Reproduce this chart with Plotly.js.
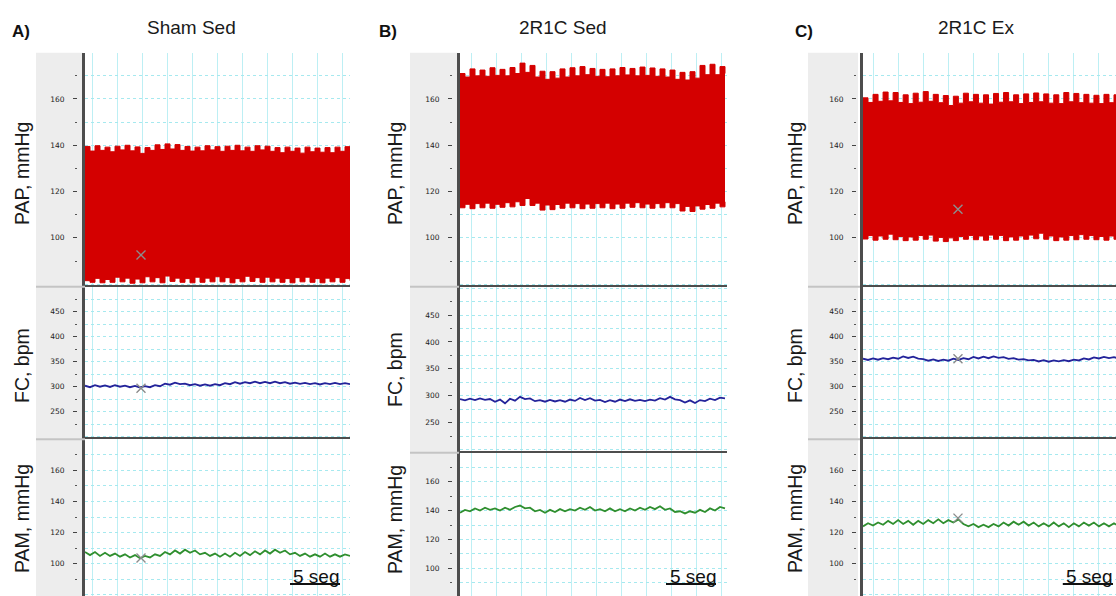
<!DOCTYPE html>
<html><head><meta charset="utf-8">
<script src="https://cdn.plot.ly/plotly-3.0.1.min.js"></script>
<style>html,body{margin:0;padding:0;background:#fff}#chart{width:1116px;height:596px}</style>
</head><body><div id="chart"></div>
<script>
// ---------------- DATA ----------------
const panelTitles = ["Sham Sed", "2R1C Sed", "2R1C Ex"];
const panelLetters = ["A)", "B)", "C)"];
const rowTitles = ["PAP, mmHg", "FC, bpm", "PAM, mmHg"];
const scaleLabel = "5 seg";
const scaleSeconds = 5;

// time (s)
const time = [0,0.5,1,1.5,2,2.5,3,3.5,4,4.5,5,5.5,6,6.5,7,7.5,8,8.5,9,9.5,10,10.5,11,11.5,12,12.5,13,13.5,14,14.5,15,15.5,16,16.5,17,17.5,18,18.5,19,19.5,20,20.5,21,21.5,22,22.5,23,23.5,24,24.5,25,25.5,26,26.5];

// PAP (mmHg) envelopes: systolic (upper) and diastolic (lower)
const papUpperA = [139.5,137.5,139.8,137.8,139.2,137.2,139.6,138,140,137.6,139.3,136.5,139,137.8,140.2,138.2,140.6,138.4,140.3,137.8,139.5,137.5,139.2,137.6,139.8,138,139.4,137.4,139.6,137.8,140,137.6,139.2,137.4,139.8,138,139.6,137.4,139,136.8,139.2,137.4,138.8,136.6,139.2,137.2,138.8,137,139,136.8,139.2,137.4,139.4,138];
const papLowerA = [81.5,80.8,82.5,80.6,82,80.8,83,81,82.6,80.4,82.2,80.6,83.2,81,82.8,80.6,83.5,81.2,82.6,80.8,82.4,80.6,83,80.8,82.6,81,83.2,81,82.8,80.6,82.4,81,83.4,81.2,82.8,80.8,83,81,82.6,80.8,82.4,80.6,82.8,81,83,80.8,82.4,80.6,82.6,81,82.8,80.8,82.4,81.5];
const papUpperB = [171,169.5,173,170,172.5,169.8,173.5,170.2,172.8,170,173.6,171,175.5,171.5,174.5,169.5,172,168.5,171.8,169,173,169.5,173.5,170,174,170.5,173.2,169.8,172.8,169.6,173,170,173.6,170.4,173.2,170,173.8,170.2,173.4,169.8,173,169.5,172.5,168.5,171.5,168.2,171.8,169,174.5,170.5,175,170.5,174,171];
const papLowerB = [113,114.5,112.6,114.8,113,115,112.8,114.5,113.2,115.2,113.4,115.6,114,117,114,115,112,114.2,112.2,114.4,112.8,115,113,114.8,112.6,114.6,112.8,114.8,113,115,112.6,114.6,112.8,115,113.2,115.2,113,114.6,112.8,114.8,113,115.2,113,114.8,111.6,113.6,111.4,113.8,112.4,114.4,112.8,115,113.4,115.6];
const papUpperC = [160.5,158.5,162,159,163,159.2,162.8,158.5,161.8,158,162.5,158.6,163.2,159,162,158.4,161.5,157.2,161.2,158.2,162.5,158.8,162,158.2,161.8,157.8,162.4,158.6,162.8,158.8,161.8,158,162.2,158.5,162.6,158.8,162.2,158.2,161.8,158,162.8,158.8,162.4,158.4,162,158.2,161.6,158,162,158.4,161.8,158.2,162,158.5];
const papLowerC = [99.5,101,99,100.8,99.4,101.6,99.2,100.6,98.8,100.4,99,101,99.4,101.2,98.6,100.2,98.4,100,98.8,100.6,99.4,101,99.2,100.8,99,101.2,99.4,101,98.8,100.4,99,100.8,99.4,101.2,99.6,102,99.4,100.8,98.8,100.4,99,101,99.2,101.4,99.4,101,99.2,100.6,99,100.8,99.4,101,99.2,100.8];

// FC (bpm)
const fcA = [302,299,303,300,302.5,299.5,303,300,302,299,301.5,298.5,301,299,303,301,306,304,308,305,306,303,305,302,304.5,302,305,303,307,305,309,306,309,307,310,307,309.5,307,310,307,309,306,308,305.5,307.5,305,307,304.5,307,305,307.5,305,307,305];
const fcB = [294,291.5,294.5,292,295,292.5,294,289,293,286,294.5,291,298,294,295,290,292,289,292.5,289.5,292,289,293,290.5,296,292,295.5,291,292.5,288.5,292,289,293,290,293.5,290.5,292.5,290,293,291,295.5,293,298,293.5,292,287.5,291.5,286.5,292,290,294.5,292,296.5,295];
const fcC = [356,353.5,356.5,354,357,355,358,356,360.5,357.5,360,356,355,352,354.5,351.5,354,352,356,353.5,357,355,359.5,356.5,360,357,360.5,357.5,359,355.5,357,354,355,352.5,353.5,350.5,353,350,352.5,350.5,353,351,354,352.5,356.5,354.5,358.5,356.5,359.5,357,359,356.5,358,356];

// PAM (mmHg)
const pamA = [107.5,105.5,107.5,105,107,105,106.5,104.5,106,104,105.5,103.5,105,104,106,105,107.5,106,108.5,106.5,109,107,108.5,106,107,105,106.5,104.5,106.5,104.5,107,105,107.5,105.5,108,106,108.5,106.5,109,107,108.5,106,107,105,106.5,104.5,106,104.5,106.5,104.5,106,104.5,106,105];
const pamB = [138.5,140.5,139.5,141.5,140,142,140.5,141.5,140,142,140.5,142.5,143.5,141.5,142,139.5,140.5,138.5,140.5,139,141,139.5,141,140,142,140.5,142.5,140,141,139.5,141.5,139.5,141,139.5,141.5,140,142,140.5,142.5,141,143,140.5,141.5,139,139.5,138,139.5,138.5,140.5,139,141.5,140,142.5,141.5];
const pamC = [124,126,124.5,126.5,125,127.5,125.5,128,125.5,127.5,125,127.5,125.5,128,126,128.5,126,128,126.5,128.5,125.5,124,125.5,123.5,125,123.5,125.5,124,126.5,124.5,127,125,127,124.5,126.5,124,126,124,126.5,124,126,123.5,126,124,126.5,124.5,126.5,124,126,124,126,124,126,124.5];

// cursor marks (x) : time, PAP, FC, PAM  (null = none)
const cursorTime = [5.6, null, 9.46];
const cursorPAP = [92.6, null, 112.4];
const cursorFC = [297, null, 356];
const cursorPAM = [103.7, null, 129.3];

// scale bar start (s)
const scaleStart = [20.5, 20.6, 19.9];

// tick labels
const papTicks = [100, 120, 140, 160];
const papMinor = [90, 110, 130, 150, 170];
const fcTicks = [250, 300, 350, 400, 450];
const fcMinor = [225, 275, 325, 375, 425, 475];
const pamTicks = [100, 120, 140, 160];
const pamMinor = [90, 110, 130, 150, 170];

// ---------------- LAYOUT GEOMETRY ----------------
const W = 1116, H = 596;
const fx = v => v / W, fy = v => 1 - v / H;
const colLeft = [85, 460, 863], colRight = [350, 727, 1116];
const stripL = [36, 410, 808], stripR = [83, 457, 858];
const tickPos = [77, 452, 856];
const xRanges = [[0, 26.5], [0, 26.7], [0, 25.2]];
const gridTick0 = [0.7, 1.1, 1.0];
const rowTop = [[52.7, 286.7, 439.3], [52.7, 286.7, 452.7], [52.7, 286.7, 439.3]];
const rowBot = [[286.7, 439.3, 596], [286.7, 452.7, 596], [286.7, 439.3, 596]];
const yRanges = [
  [[78.9, 180], [194.8, 500], [79.2, 180]],
  [[78.9, 180], [194.3, 502.6], [80.8, 180.1]],
  [[78.9, 180], [194.8, 500], [79.2, 180]]
];
const titleX = [191, 563, 976], letterX = [21, 388, 804];
const rowTitleX = [22, 395, 795];
const rowTitleY = [[174, 366, 519], [174, 370, 520], [174, 366, 519]];
const scaleTextX = [316, 693, 1089];

const RED = '#d40000', BLUE = '#23239a', GREEN = '#2f8f2f';
const BORDER = '#4d4d4d';

const papU = [papUpperA, papUpperB, papUpperC];
const papL = [papLowerA, papLowerB, papLowerC];
const fcS = [fcA, fcB, fcC];
const pamS = [pamA, pamB, pamC];
const tickSets = [[papTicks, papMinor, 10], [fcTicks, fcMinor, 25], [pamTicks, pamMinor, 10]];

const sfx = n => (n === 1 ? '' : String(n));

const traces = [];
const layout = {
  width: W, height: H, margin: {l: 0, r: 0, t: 0, b: 0},
  paper_bgcolor: '#fff', plot_bgcolor: 'rgba(0,0,0,0)', showlegend: false,
  hovermode: false, shapes: [], annotations: []
};
const font = 'Liberation Sans, Arial, sans-serif';

for (let c = 0; c < 3; c++) {
  for (let r = 0; r < 3; r++) {
    const k = c * 3 + r + 1;
    const kl = 9 + k;
    const xId = 'x' + sfx(k), yId = 'y' + sfx(k), ylId = 'y' + sfx(kl);
    const dom = [fy(rowBot[c][r]), fy(rowTop[c][r])];
    layout['xaxis' + sfx(k)] = {
      domain: [fx(colLeft[c]), fx(colRight[c])], range: xRanges[c], anchor: yId,
      showgrid: true, gridcolor: '#bdeff4', gridwidth: 1, tick0: gridTick0[c], dtick: 2.5,
      showticklabels: false, ticks: '', zeroline: false,
      showline: r > 0, side: 'top', linecolor: BORDER, linewidth: 2, fixedrange: true
    };
    layout['yaxis' + sfx(k)] = {
      domain: dom, range: yRanges[c][r], anchor: xId,
      showgrid: true, gridcolor: '#a6e9ef', griddash: 'dot', gridwidth: 1,
      tick0: 0, dtick: tickSets[r][2], showticklabels: false, ticks: '', zeroline: false,
      showline: true, linecolor: BORDER, linewidth: 3, fixedrange: true
    };
    layout['yaxis' + sfx(kl)] = {
      overlaying: yId, anchor: 'free', position: fx(tickPos[c]), side: 'left',
      range: yRanges[c][r], tickmode: 'array', tickvals: tickSets[r][0],
      ticks: 'outside', ticklen: 4, tickwidth: 1, tickcolor: '#444', ticklabelstandoff: 7,
      tickfont: {family: 'DejaVu Sans, sans-serif', size: 7.5, color: '#222'},
      minor: {tickmode: 'array', tickvals: tickSets[r][1], ticks: 'outside', ticklen: 2, tickwidth: 1, tickcolor: '#555', showgrid: false},
      showgrid: false, zeroline: false, showline: false, fixedrange: true
    };
    const ax = {xaxis: xId, yaxis: yId};
    if (r === 0) {
      traces.push(Object.assign({type: 'scatter', mode: 'lines', x: time, y: papL[c],
        line: {color: RED, width: 1, shape: 'hv'}}, ax));
      traces.push(Object.assign({type: 'scatter', mode: 'lines', x: time, y: papU[c],
        fill: 'tonexty', fillcolor: RED, line: {color: RED, width: 1, shape: 'hv'}}, ax));
    } else if (r === 1) {
      traces.push(Object.assign({type: 'scatter', mode: 'lines', x: time, y: fcS[c],
        line: {color: BLUE, width: 1.8}}, ax));
    } else {
      traces.push(Object.assign({type: 'scatter', mode: 'lines', x: time, y: pamS[c],
        line: {color: GREEN, width: 1.8}}, ax));
    }
    const cv = [cursorPAP, cursorFC, cursorPAM][r][c];
    if (cursorTime[c] !== null && cv !== null) {
      traces.push(Object.assign({type: 'scatter', mode: 'markers', x: [cursorTime[c]], y: [cv],
        marker: {symbol: 'x-thin', size: 9, line: {width: 1.4, color: '#8c8c8c'}}}, ax));
    }
    // empty trace registers the tick-label axis
    traces.push({type: 'scatter', mode: 'markers', x: [], y: [], xaxis: xId, yaxis: ylId, hoverinfo: 'skip'});
    layout.annotations.push({xref: 'paper', yref: 'paper', x: fx(rowTitleX[c]), y: fy(rowTitleY[c][r]),
      text: rowTitles[r], textangle: -90, showarrow: false, xanchor: 'center', yanchor: 'middle',
      font: {family: font, size: 19.5, color: '#1a1a1a'}});
    if (r > 0) {
      layout.shapes.push({type: 'line', xref: 'paper', yref: 'paper', x0: fx(stripL[c]), x1: fx(stripR[c] + 2),
        y0: fy(rowTop[c][r]), y1: fy(rowTop[c][r]), line: {color: '#c4c4c4', width: 2}});
    }
  }
  layout.shapes.push({type: 'rect', xref: 'paper', yref: 'paper', layer: 'below',
    x0: fx(stripL[c]), x1: fx(stripR[c]), y0: 0, y1: fy(52.7), fillcolor: '#ededed', line: {width: 0}});
  layout.annotations.push({xref: 'paper', yref: 'paper', x: fx(titleX[c]), y: fy(27), text: panelTitles[c],
    showarrow: false, xanchor: 'center', yanchor: 'middle', font: {family: font, size: 19, color: '#1a1a1a'}});
  layout.annotations.push({xref: 'paper', yref: 'paper', x: fx(letterX[c]), y: fy(31), text: '<b>' + panelLetters[c] + '</b>',
    showarrow: false, xanchor: 'center', yanchor: 'middle', font: {family: font, size: 17, color: '#111'}});
  const kx = 'x' + sfx(c * 3 + 3);
  layout.shapes.push({type: 'line', xref: kx, yref: 'paper', x0: scaleStart[c], x1: scaleStart[c] + scaleSeconds,
    y0: fy(584), y1: fy(584), line: {color: '#111', width: 2}});
  layout.annotations.push({xref: 'paper', yref: 'paper', x: fx(scaleTextX[c]), y: fy(576), text: scaleLabel,
    showarrow: false, xanchor: 'center', yanchor: 'middle', font: {family: font, size: 19, color: '#111'}});
}

Plotly.newPlot('chart', traces, layout, {staticPlot: true, displayModeBar: false});
</script></body></html>
